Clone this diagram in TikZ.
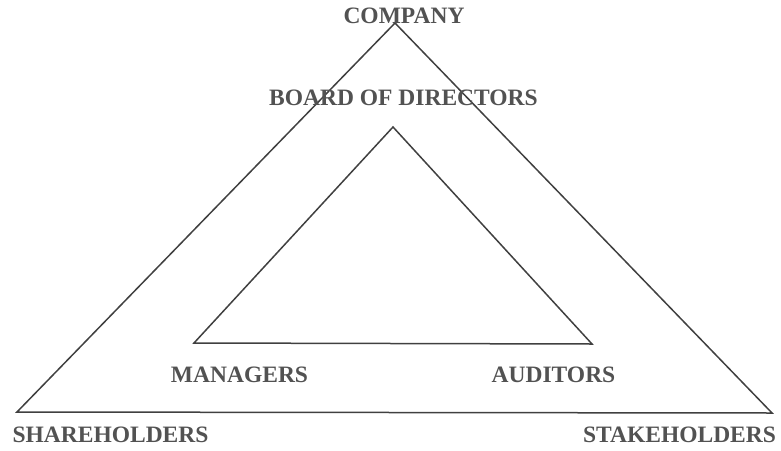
\documentclass[tikz,border=0pt]{standalone}
\usepackage{fontspec}
\setmainfont{Liberation Serif}
\begin{document}
\begin{tikzpicture}[x=1pt,y=-1pt,
  side/.style={line width=1.5pt, color=black!75, line join=miter},
  label/.style={anchor=base, inner sep=0pt, text=black!68, font=\fontsize{23.5}{27}\selectfont\bfseries}]
\useasboundingbox (0,0) rectangle (781,450);
\coordinate (companytop) at (395,23);
\coordinate (shareholdercorner) at (17,412);
\coordinate (stakeholdercorner) at (772,413);
\coordinate (boardtop) at (393,127);
\coordinate (managercorner) at (194,343);
\coordinate (auditorcorner) at (592,344);
\draw [side] (companytop) -- (stakeholdercorner) -- (shareholdercorner) -- cycle;
\draw [side] (boardtop) -- (auditorcorner) -- (managercorner) -- cycle;
\node [label] (company) at (404,23) {COMPANY};
\node [label] (board) at (403.5,105) {BOARD OF DIRECTORS};
\node [label] (managers) at (239.5,382) {MANAGERS};
\node [label] (auditors) at (553.5,382) {AUDITORS};
\node [label] (shareholders) at (110.5,442) {SHAREHOLDERS};
\node [label] (stakeholders) at (679.5,442) {STAKEHOLDERS};
\end{tikzpicture}
\end{document}
